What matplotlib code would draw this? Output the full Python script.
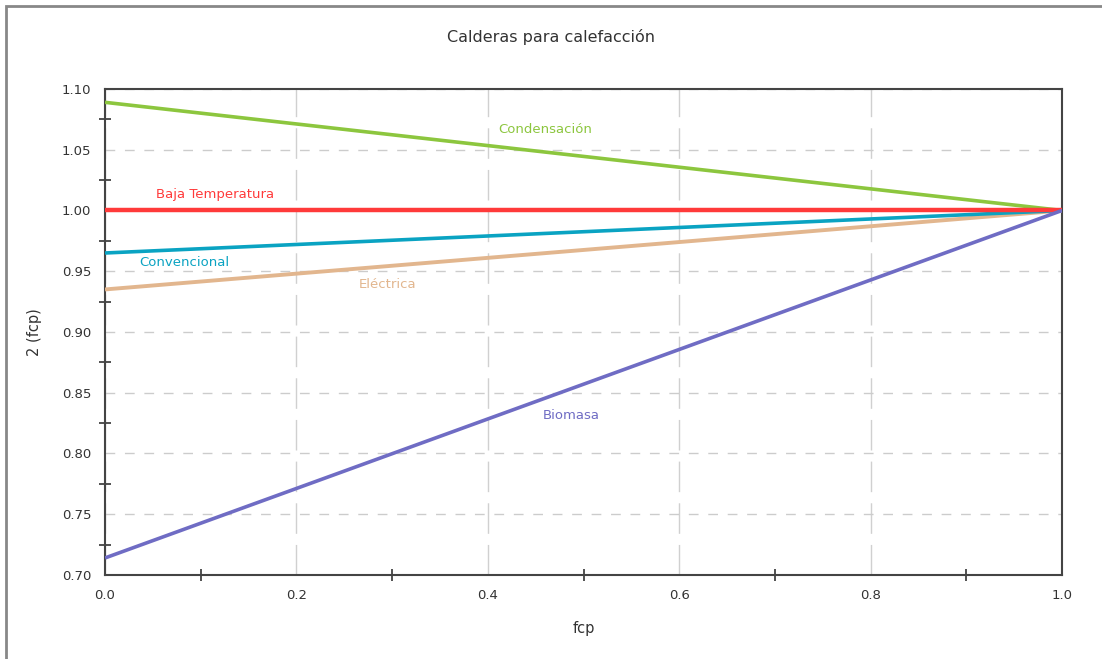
import matplotlib.pyplot as plt
from matplotlib.patches import Rectangle
from matplotlib.ticker import MultipleLocator

# Datos de las curvas (fcp de 0 a 1)
fcp = [0.0, 1.0]
condensacion = [1.089, 1.0]
baja_temp = [1.0, 1.0]
convencional = [0.965, 1.0]
electrica = [0.935, 1.0]
biomasa = [0.714, 1.0]

series = [
    ("Condensación", condensacion, "#8cc63e", 2.6, (0.46, 1.0663)),
    ("Eléctrica", electrica, "#e2b68e", 2.8, (0.295, 0.9387)),
    ("Convencional", convencional, "#0aa3c2", 2.6, (0.083, 0.9572)),
    ("Baja Temperatura", baja_temp, "#ff3a3a", 3.2, (0.115, 1.0128)),
    ("Biomasa", biomasa, "#6f6cc4", 2.6, (0.487, 0.8309)),
]

fig = plt.figure(figsize=(11.02, 6.59), dpi=100)
ax = fig.add_axes([0.0953, 0.1275, 0.8684, 0.7375])

for name, vals, color, lw, (tx, ty) in series:
    ax.plot(fcp, vals, color=color, lw=lw, solid_capstyle="butt", zorder=3)
    ax.text(tx, ty, name, color=color, fontsize=9.5, ha="center", va="center", zorder=4)

ax.set_xlim(0, 1)
ax.set_ylim(0.70, 1.10)
ax.xaxis.set_major_locator(MultipleLocator(0.2))
ax.xaxis.set_minor_locator(MultipleLocator(0.1))
ax.yaxis.set_major_locator(MultipleLocator(0.05))
ax.yaxis.set_minor_locator(MultipleLocator(0.025))
ax.xaxis.set_major_formatter(plt.FuncFormatter(lambda v, p: f"{v:.1f}"))
ax.yaxis.set_major_formatter(plt.FuncFormatter(lambda v, p: f"{v:.2f}"))

ax.tick_params(which="major", length=0, pad=10, labelsize=9.5, labelcolor="#333333")
ax.tick_params(which="minor", direction="inout", length=9, width=1.2, color="#333333")

ax.grid(True, axis="y", which="major", color="#cccccc", lw=1, dashes=(7, 7))
ax.grid(True, axis="x", which="major", color="#d0d0d0", lw=1, dashes=(22, 8))

for s in ax.spines.values():
    s.set_color("#444444")
    s.set_linewidth(1.5)

ax.set_xlabel("fcp", fontsize=10.5, color="#333333", labelpad=14)
ax.set_ylabel("2 (fcp)", fontsize=10.5, color="#333333", labelpad=14)
fig.text(0.5, 1 - 37 / 659, "Calderas para calefacción", ha="center", va="center",
         fontsize=11.5, color="#333333")

# Marco exterior
fig.patches.append(Rectangle((0.005, -0.05), 1.1, 1.05 - 6 / 659, transform=fig.transFigure,
                             fill=False, edgecolor="#888888", lw=2))

fig.savefig("out.png", dpi=100)
